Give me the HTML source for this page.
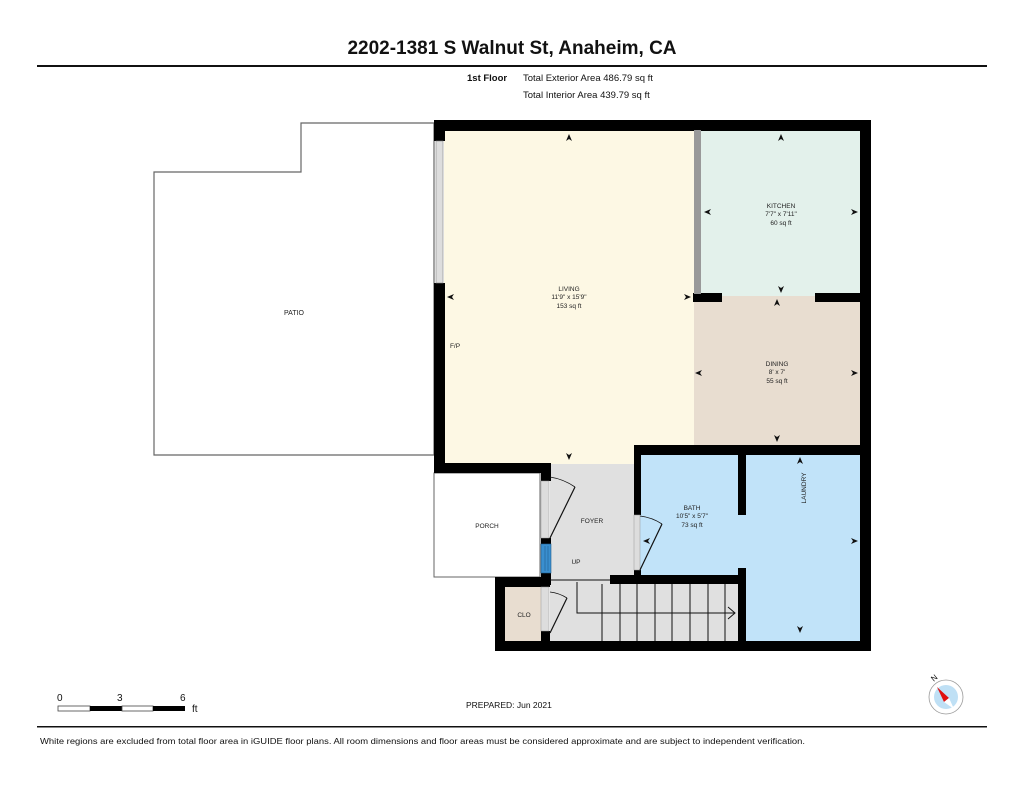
<!DOCTYPE html>
<html><head><meta charset="utf-8"><style>
html,body{margin:0;padding:0;background:#fff;width:1024px;height:791px;overflow:hidden}
svg{display:block;font-family:"Liberation Sans",Arial,sans-serif}
</style></head><body>
<svg width="1024" height="791" viewBox="0 0 1024 791" xmlns="http://www.w3.org/2000/svg">
<text x="512" y="54" text-anchor="middle" font-size="19" font-weight="bold" fill="#111">2202-1381 S Walnut St, Anaheim, CA</text>
<rect x="37" y="65" width="950" height="2" fill="#111"/>
<text x="467" y="81" font-size="9.5" font-weight="bold" fill="#111">1st Floor</text>
<text x="523" y="81" font-size="9.5" fill="#111">Total Exterior Area 486.79 sq ft</text>
<text x="523" y="98" font-size="9.5" fill="#111">Total Interior Area 439.79 sq ft</text>

<polygon points="154,172 301,172 301,123 434,123 434,455 154,455" fill="#fff" stroke="#666" stroke-width="1.2"/>
<text x="294" y="315" text-anchor="middle" font-size="7" fill="#222">PATIO</text>

<rect x="444" y="130" width="250" height="334" fill="#fdf8e4"/>
<rect x="694" y="130" width="167" height="166" fill="#e3f1eb"/>
<rect x="694" y="296" width="167" height="150" fill="#e8ddd0"/>
<rect x="550" y="464" width="84" height="117" fill="#e0e0e0"/>
<rect x="550" y="581" width="190" height="61" fill="#e0e0e0"/>
<polygon points="640,455 861,455 861,641 746,641 746,568 738,568 738,575 640,575" fill="#c1e3f9"/>
<rect x="505" y="587" width="36" height="54" fill="#e8ddd0"/>
<rect x="434" y="473" width="106" height="104" fill="#fff" stroke="#666" stroke-width="1"/>

<g fill="#000">
<rect x="434" y="120" width="437" height="11"/>
<rect x="860" y="120" width="11" height="531"/>
<rect x="495" y="641" width="376" height="10"/>
<rect x="434" y="120" width="11" height="21"/>
<rect x="434" y="283" width="11" height="190"/>
<rect x="434" y="463" width="117" height="10"/>
<rect x="541" y="463" width="10" height="18"/>
<rect x="541" y="538" width="10" height="6"/>
<rect x="541" y="573" width="10" height="12"/>
<rect x="495" y="577" width="55" height="10"/>
<rect x="495" y="577" width="10" height="74"/>
<rect x="541" y="631" width="9" height="10"/>
<rect x="693" y="293" width="29" height="9"/>
<rect x="815" y="293" width="46" height="9"/>
<rect x="634" y="445" width="237" height="10"/>
<rect x="634" y="445" width="7" height="70"/>
<rect x="634" y="570" width="7" height="12"/>
<rect x="738" y="455" width="8" height="60"/>
<rect x="738" y="568" width="8" height="80"/>
<rect x="610" y="575" width="136" height="9"/>
</g>
<rect x="694" y="130" width="7" height="164" fill="#999"/>
<rect x="436" y="141" width="7" height="142" fill="#ddd" stroke="#888" stroke-width="0.6"/>
<rect x="541" y="544" width="10" height="29" fill="#3a8fcf" stroke="#1f5f8f" stroke-width="0.6"/>
<line x1="545" y1="546" x2="545" y2="571" stroke="#1f5f8f" stroke-width="0.6"/>
<line x1="548" y1="546" x2="548" y2="571" stroke="#1f5f8f" stroke-width="0.6"/>
<rect x="541" y="481" width="8" height="57" fill="#ddd" stroke="#999" stroke-width="0.5"/>
<rect x="541" y="587" width="8" height="44" fill="#ddd" stroke="#999" stroke-width="0.5"/>
<rect x="634" y="515" width="6" height="55" fill="#ddd" stroke="#999" stroke-width="0.5"/>

<g fill="none" stroke="#111" stroke-width="1.2">
<path d="M550,538 L575,487"/><path d="M550,477 A60,60 0 0 1 575,487" stroke-width="0.8"/>
<path d="M550,633 L567,598"/><path d="M550,592 A40,40 0 0 1 567,598" stroke-width="0.8"/>
<path d="M640,570 L662,524"/><path d="M640,516 A50,50 0 0 1 662,524" stroke-width="0.8"/>
</g>

<g stroke="#111" stroke-width="1" fill="none">
<line x1="550" y1="580" x2="610" y2="580"/>
<line x1="602" y1="584" x2="602" y2="641"/>
<line x1="620" y1="584" x2="620" y2="641"/>
<line x1="637" y1="584" x2="637" y2="641"/>
<line x1="655" y1="584" x2="655" y2="641"/>
<line x1="672" y1="584" x2="672" y2="641"/>
<line x1="690" y1="584" x2="690" y2="641"/>
<line x1="708" y1="584" x2="708" y2="641"/>
<line x1="725" y1="584" x2="725" y2="641"/>
<polyline points="577,582 577,613 735,613"/>
<polyline points="728,607 735,613 728,619"/>
</g>

<g fill="#111">
<polygon points="569,134 566,141 569,139 572,141"/>
<polygon points="569,460 566,453 569,455 572,453"/>
<polygon points="447,297 454,294 452,297 454,300"/>
<polygon points="691,297 684,294 686,297 684,300"/>
<polygon points="781,134 778,141 781,139 784,141"/>
<polygon points="704,212 711,209 709,212 711,215"/>
<polygon points="858,212 851,209 853,212 851,215"/>
<polygon points="781,293 778,286 781,288 784,286"/>
<polygon points="777,299 774,306 777,304 780,306"/>
<polygon points="777,442 774,435 777,437 780,435"/>
<polygon points="695,373 702,370 700,373 702,376"/>
<polygon points="858,373 851,370 853,373 851,376"/>
<polygon points="800,457 797,464 800,462 803,464"/>
<polygon points="800,633 797,626 800,628 803,626"/>
<polygon points="858,541 851,538 853,541 851,544"/>
<polygon points="643,541 650,538 648,541 650,544"/>
</g>

<g font-size="6.5" fill="#222" text-anchor="middle">
<text x="569" y="291">LIVING</text>
<text x="569" y="299">11'9" x 15'9"</text>
<text x="569" y="308">153 sq ft</text>
<text x="781" y="208">KITCHEN</text>
<text x="781" y="216">7'7" x 7'11"</text>
<text x="781" y="225">60 sq ft</text>
<text x="777" y="366">DINING</text>
<text x="777" y="374">8' x 7'</text>
<text x="777" y="383">55 sq ft</text>
<text x="692" y="510">BATH</text>
<text x="692" y="518">10'5" x 5'7"</text>
<text x="692" y="527">73 sq ft</text>
<text x="487" y="528">PORCH</text>
<text x="592" y="523">FOYER</text>
<text x="576" y="564">UP</text>
<text x="524" y="617">CLO</text>
<text x="455" y="348">F/P</text>
<text transform="translate(806,488) rotate(-90)">LAUNDRY</text>
</g>

<rect x="58" y="706" width="32" height="5" fill="#fff" stroke="#444" stroke-width="0.8"/>
<rect x="90" y="706" width="32" height="5" fill="#000"/>
<rect x="122" y="706" width="31" height="5" fill="#fff" stroke="#444" stroke-width="0.8"/>
<rect x="153" y="706" width="32" height="5" fill="#000"/>
<g font-size="10" fill="#111"><text x="57" y="701">0</text><text x="117" y="701">3</text><text x="180" y="701">6</text><text x="192" y="712">ft</text></g>
<text x="466" y="708" font-size="8.5" fill="#111">PREPARED: Jun 2021</text>

<circle cx="946" cy="697" r="17" fill="#fff" stroke="#999" stroke-width="0.8"/>
<circle cx="946" cy="697" r="12" fill="#bfe0f5"/>
<polygon points="937,687 944,702 949,698" fill="#e01010"/>
<polygon points="944,702 949,698 954,709" fill="#fff"/>
<text x="932" y="681" font-size="8" fill="#111" transform="rotate(-40 934 679)">N</text>

<rect x="37" y="726" width="950" height="1.5" fill="#111"/>
<text x="40" y="744" font-size="8.6" fill="#111" textLength="765" lengthAdjust="spacingAndGlyphs">White regions are excluded from total floor area in iGUIDE floor plans. All room dimensions and floor areas must be considered approximate and are subject to independent verification.</text>
</svg>
</body></html>
